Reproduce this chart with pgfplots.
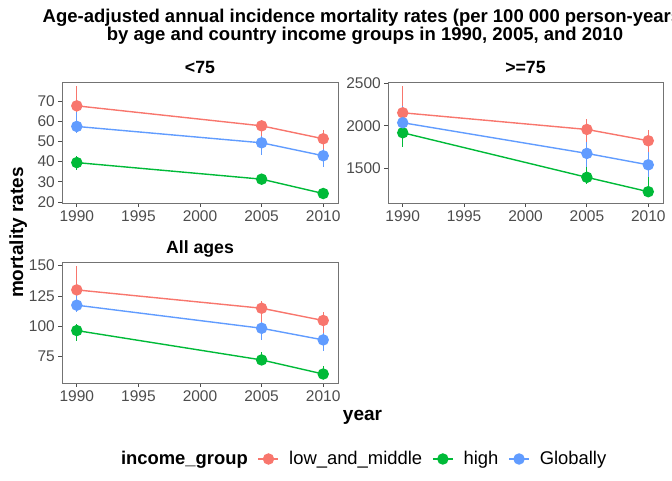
\documentclass[border=0pt]{standalone}
\usepackage{pgfplots}
\pgfplotsset{compat=1.18}
\usepackage{fontspec}
\setmainfont{Liberation Sans}
\definecolor{cred}{HTML}{F8766D}
\definecolor{cgreen}{HTML}{00BA38}
\definecolor{cblue}{HTML}{619CFF}
\pgfplotsset{
  panel/.style={
    scale only axis, width=276pt, height=121pt,
    axis line style={black!55, line width=0.8pt},
    tick pos=left, tick align=outside,
    major tick length=3.7pt,
    every tick/.style={black!70, line width=0.8pt},
    tick label style={font=\fontsize{15.5}{16}\selectfont, text=black!70},
    /pgf/number format/assume math mode=true,
    /pgf/number format/1000 sep={},
    xmin=1988.8, xmax=2011.2,
    xtick={1990,1995,2000,2005,2010},
    x tick label style={/pgf/number format/1000 sep={}},
    clip=false,
  },
  ser/.style={color=#1, line width=1.4pt, mark=*, mark size=5pt,
    mark options={solid, fill=#1, draw=#1},
    error bars/.cd, y dir=both, y explicit,
    error bar style={line width=1.1pt, color=#1}, error mark=none},
}
\begin{document}
\begin{tikzpicture}[x=1pt,y=1pt]
% Panel <75
\begin{axis}[panel, at={(62pt,277pt)}, anchor=south west,
  ymin=19.5, ymax=79.4, ytick={20,30,40,50,60,70}]
\addplot[ser=cred] table[x=x,y=y,y error plus=ep,y error minus=em] {
x y ep em
1990 67.6 9.8 4.6
2005 57.7 2.9 6.9
2010 51.3 4.1 7.9
};
\addplot[ser=cgreen] table[x=x,y=y,y error plus=ep,y error minus=em] {
x y ep em
1990 39.5 3.1 3.8
2005 31.3 2.7 2.3
2010 24.2 1.3 1.0
};
\addplot[ser=cblue] table[x=x,y=y,y error plus=ep,y error minus=em] {
x y ep em
1990 57.4 7.3 3.1
2005 49.3 3.3 5.9
2010 42.9 3.1 5.5
};
\end{axis}
% Panel >=75
\begin{axis}[panel, width=275pt, at={(388pt,277pt)}, anchor=south west,
  ymin=1092, ymax=2515, ytick={1500,2000,2500}]
\addplot[ser=cred] table[x=x,y=y,y error plus=ep,y error minus=em] {
x y ep em
1990 2153 315 153
2005 1957 118 243
2010 1824 125 226
};
\addplot[ser=cgreen] table[x=x,y=y,y error plus=ep,y error minus=em] {
x y ep em
1990 1918 109 173
2005 1394 161 78
2010 1225 173 58
};
\addplot[ser=cblue] table[x=x,y=y,y error plus=ep,y error minus=em] {
x y ep em
1990 2036 199 86
2005 1675 137 155
2010 1541 149 139
};
\end{axis}
% Panel All ages
\begin{axis}[panel, at={(62pt,97pt)}, anchor=south west,
  ymin=53.3, ymax=153, ytick={75,100,125,150},
  legend columns=-1,
  legend style={draw=none, fill=none, at={(1.082,-0.628)}, anchor=center,
    font=\fontsize{18.4}{20}\selectfont,
    nodes={inner xsep=4pt, inner ysep=1pt},
    /tikz/every odd column/.append style={column sep=6pt},
    /tikz/every even column/.append style={column sep=6pt}},
  legend image code/.code={
    \draw[mark repeat=2, mark phase=2, line width=1.4pt]
      plot coordinates {(0pt,0pt) (10pt,0pt) (20pt,0pt)};}
  ]
\addlegendimage{empty legend}
\addlegendentry{\bfseries income\_group}
\addplot[ser=cred] table[x=x,y=y,y error plus=ep,y error minus=em] {
x y ep em
1990 130.0 19.7 6.6
2005 114.9 6.0 15.1
2010 104.8 7.2 13.8
};
\addlegendentry{low\_and\_middle}
\addplot[ser=cgreen] table[x=x,y=y,y error plus=ep,y error minus=em] {
x y ep em
1990 96.5 5.5 8.2
2005 72.3 6.7 4.3
2010 60.7 6.6 3.7
};
\addlegendentry{high}
\addplot[ser=cblue] table[x=x,y=y,y error plus=ep,y error minus=em] {
x y ep em
1990 117.4 12.6 5.4
2005 98.4 5.5 9.6
2010 88.8 6.0 8.8
};
\addlegendentry{Globally}
\end{axis}
% titles
\node[anchor=base, align=center, inner sep=0pt, font=\fontsize{18.5}{17.5}\selectfont\bfseries] at (365,439.5)
  {Age-adjusted annual incidence mortality rates (per 100 000 person-years)\\by age and country income groups in 1990, 2005, and 2010};
\node[anchor=base, font=\fontsize{17.7}{19}\selectfont\bfseries] at (200,406) {<75};
\node[anchor=base, font=\fontsize{17.7}{19}\selectfont\bfseries] at (525.5,406) {>=75};
\node[anchor=base, font=\fontsize{17.7}{19}\selectfont\bfseries] at (200,226) {All ages};
\node[anchor=base, rotate=90, font=\fontsize{19}{20}\selectfont\bfseries] at (23,247.5) {mortality rates};
\node[anchor=base, font=\fontsize{19}{20}\selectfont\bfseries] at (362.5,60) {year};
\pgfresetboundingbox
\useasboundingbox (0,0) rectangle (672,480);
\end{tikzpicture}
\end{document}
